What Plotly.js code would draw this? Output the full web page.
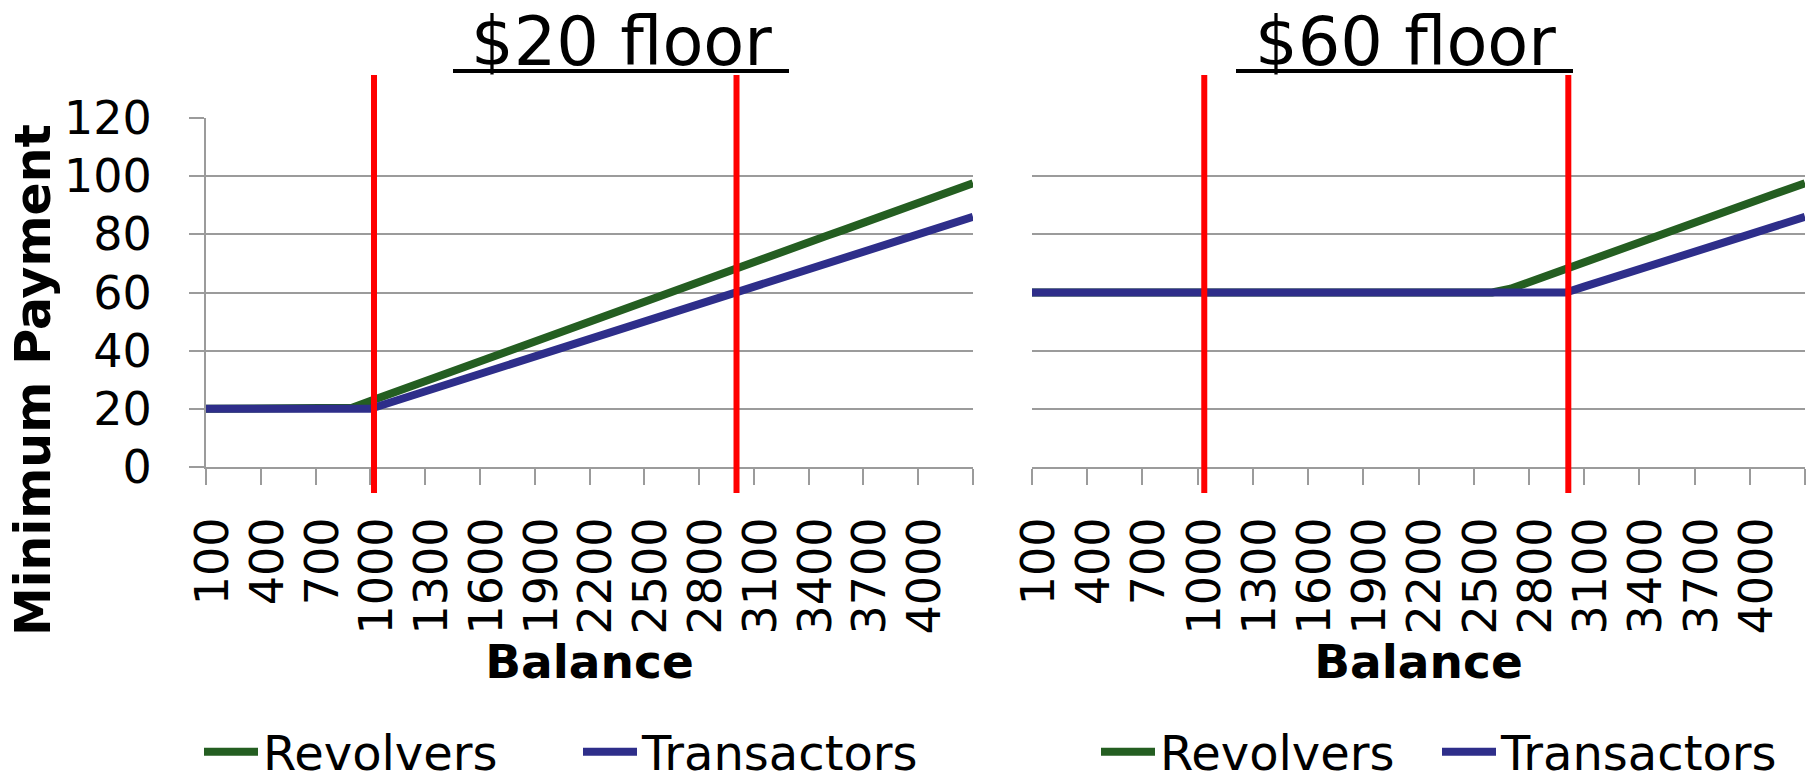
<!DOCTYPE html>
<html><head><meta charset="utf-8">
<script src="https://cdn.plot.ly/plotly-3.0.1.min.js"></script>
<style>html,body{margin:0;padding:0;background:#fff;overflow:hidden;} #frame{width:1816px;height:780px;overflow:hidden;position:relative;} #chart{width:1816px;height:800px;}</style>
</head><body><div id="frame"><div id="chart"></div></div>
<script>
const balance = [100,200,300,400,500,600,700,800,900,1000,1100,1200,1300,1400,1500,1600,1700,1800,1900,2000,2100,2200,2300,2400,2500,2600,2700,2800,2900,3000,3100,3200,3300,3400,3500,3600,3700,3800,3900,4000,4100,4200,4300];
const revolvers20 = [20,20,20,20,20,20,20,20,20.4,22.7,25.0,27.2,29.5,31.8,34.1,36.3,38.6,40.9,43.1,45.4,47.7,49.9,52.2,54.5,56.8,59.0,61.3,63.6,65.8,68.1,70.4,72.6,74.9,77.2,79.5,81.7,84.0,86.3,88.5,90.8,93.1,95.3,97.6];
const transactors20 = [20,20,20,20,20,20,20,20,20,20,22,24,26,28,30,32,34,36,38,40,42,44,46,48,50,52,54,56,58,60,62,64,66,68,70,72,74,76,78,80,82,84,86];
const revolvers60 = [60,60,60,60,60,60,60,60,60,60,60,60,60,60,60,60,60,60,60,60,60,60,60,60,60,60,61.3,63.6,65.8,68.1,70.4,72.6,74.9,77.2,79.5,81.7,84.0,86.3,88.5,90.8,93.1,95.3,97.6];
const transactors60 = [60,60,60,60,60,60,60,60,60,60,60,60,60,60,60,60,60,60,60,60,60,60,60,60,60,60,60,60,60,60,62,64,66,68,70,72,74,76,78,80,82,84,86];
const tickBalances = [100,400,700,1000,1300,1600,1900,2200,2500,2800,3100,3400,3700,4000,4300];
const tickLabels = ['100','400','700','1000','1300','1600','1900','2200','2500','2800','3100','3400','3700','4000',''];
const yTicks = [0,20,40,60,80,100,120];
const panelTitles = ['$20 floor','$60 floor'];
const seriesNames = ['Revolvers','Transactors'];
const redLines20 = [1020,3005];
const redLines60 = [1036,3014];

const GREEN = '#245E21', BLUE = '#2E2E8A', GRID = '#9B9B9B', RED = '#FF0000';
const FONT = 'DejaVu Sans, Verdana, sans-serif';
const W = 1816, H = 800;

const traces = [
  {x: balance, y: revolvers20, name: seriesNames[0], xaxis:'x', yaxis:'y', legend:'legend', mode:'lines', line:{color:GREEN, width:8}},
  {x: balance, y: transactors20, name: seriesNames[1], xaxis:'x', yaxis:'y', legend:'legend', mode:'lines', line:{color:BLUE, width:8}},
  {x: balance, y: revolvers60, name: seriesNames[0], xaxis:'x2', yaxis:'y2', legend:'legend2', mode:'lines', line:{color:GREEN, width:8}},
  {x: balance, y: transactors60, name: seriesNames[1], xaxis:'x2', yaxis:'y2', legend:'legend2', mode:'lines', line:{color:BLUE, width:8}}
];

function xAxis(domain, anchor){
  return {domain: domain, anchor: anchor, range:[100,4300], tickmode:'array', tickvals: tickBalances, ticktext: tickLabels,
    tickangle:-90, ticks:'outside', ticklen:16, tickwidth:2, tickcolor:GRID, showline:true, linecolor:GRID, linewidth:2,
    showgrid:false, zeroline:false, tickfont:{family:FONT, size:46, color:'#000'},
    ticklabelstandoff: 14, ticklabelshift: 7,
    title:{text:'<b>Balance</b>', font:{family:FONT, size:47, color:'#000'}, standoff:10}};
}
function yAxis(anchor, labels){
  return {domain:[1-467/H, 1-118/H], anchor: anchor, range:[0,120], tickmode:'array', tickvals:yTicks,
    showgrid:true, gridcolor:GRID, gridwidth:2, zeroline:false,
    showline: labels, linecolor:GRID, linewidth:2,
    ticks: labels ? 'outside' : '', ticklen:15, tickwidth:2, tickcolor:GRID,
    showticklabels: labels, ticklabelstandoff: 28, tickfont:{family:FONT, size:46, color:'#000'}};
}

const shapes = [];
redLines20.forEach(v => shapes.push({type:'line', xref:'x', yref:'y domain', x0:v, x1:v, y0:-0.0745, y1:1.1232, line:{color:RED, width:6}, layer:'above'}));
redLines60.forEach(v => shapes.push({type:'line', xref:'x2', yref:'y2 domain', x0:v, x1:v, y0:-0.0745, y1:1.1232, line:{color:RED, width:6}, layer:'above'}));
// title underlines
shapes.push({type:'line', xref:'paper', yref:'paper', x0:453/W, x1:789/W, y0:1-71/H, y1:1-71/H, line:{color:'#000', width:4}});
shapes.push({type:'line', xref:'paper', yref:'paper', x0:1236/W, x1:1573/W, y0:1-71/H, y1:1-71/H, line:{color:'#000', width:4}});

const legendBase = {orientation:'h', xanchor:'left', y:1-752/H, yanchor:'middle', font:{family:FONT, size:48, color:'#000'}, itemwidth:54, bgcolor:'rgba(0,0,0,0)'};

const layout = {
  width:W, height:H, margin:{l:0,r:0,t:0,b:0}, paper_bgcolor:'#fff', plot_bgcolor:'#fff',
  showlegend:true,
  xaxis: xAxis([206/W, 973/W],'y'),
  xaxis2: xAxis([1032/W, 1805/W],'y2'),
  yaxis: yAxis('x', true),
  yaxis2: yAxis('x2', false),
  shapes: shapes,
  legend: Object.assign({}, legendBase, {x:199/W, entrywidth:310}),
  legend2: Object.assign({}, legendBase, {x:1096/W, entrywidth:272}),
  annotations: [
    {text:panelTitles[0], xref:'paper', yref:'paper', x:621/W, y:1-41.5/H, xanchor:'center', yanchor:'middle', showarrow:false, font:{family:FONT, size:67, color:'#000'}},
    {text:panelTitles[1], xref:'paper', yref:'paper', x:1405/W, y:1-41.5/H, xanchor:'center', yanchor:'middle', showarrow:false, font:{family:FONT, size:67, color:'#000'}},
    {text:'<b>Minimum Payment</b>', xref:'paper', yref:'paper', x:33/W, y:1-380/H, xanchor:'center', yanchor:'middle', textangle:-90, showarrow:false, font:{family:FONT, size:49, color:'#000'}}
  ]
};

Plotly.newPlot('chart', traces, layout, {displayModeBar:false, staticPlot:true});
</script></body></html>
